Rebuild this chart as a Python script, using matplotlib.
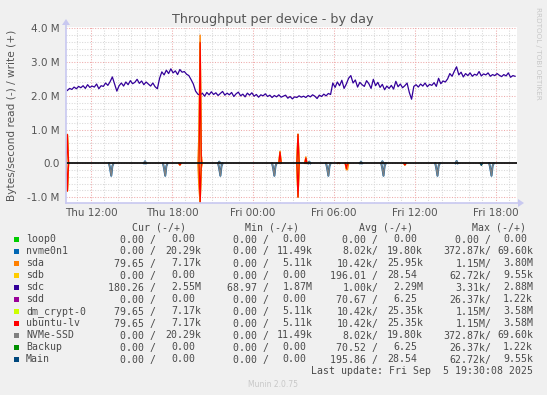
import numpy as np
import matplotlib
matplotlib.use("Agg")
import matplotlib.pyplot as plt
from matplotlib.patches import Rectangle, Polygon

W, H = 547, 395

# ---------------- data ----------------
# time axis: hours relative to Fri 00:00
x_lo, x_hi = -13.85, 19.56

# sdc write throughput (M bytes/s), one value every 10 minutes starting at -13.75 h
sdc_t0 = -13.75
sdc_step = 1 / 6
sdc_write = [
    2.16, 2.22, 2.19, 2.26, 2.21, 2.28,
    2.24, 2.30, 2.22, 2.33, 2.25, 2.29,
    2.26, 2.35, 2.21, 2.30, 2.28, 2.38,
    2.31, 2.42, 2.56, 2.35, 2.14, 2.30,
    2.38, 2.29, 2.41, 2.33, 2.45, 2.36,
    2.40, 2.49, 2.37, 2.44, 2.33, 2.41,
    2.35, 2.29, 2.38, 2.27, 2.21, 2.52,
    2.71, 2.62, 2.76, 2.66, 2.80, 2.68,
    2.74, 2.63, 2.78, 2.70, 2.72, 2.64,
    2.60, 2.48, 2.35, 2.14, 2.05, 2.02,
    2.08, 1.99, 2.10, 2.03, 2.12, 2.04,
    2.09, 2.01, 2.07, 2.13, 2.02, 2.08,
    2.03, 2.10, 1.98, 2.06, 2.11, 2.00,
    2.05, 1.97, 2.08, 2.02, 2.09, 1.99,
    2.04, 1.96, 2.03, 2.00, 2.06, 1.98,
    2.02, 1.95, 2.01, 1.97, 2.03, 1.96,
    1.99, 2.02, 1.93, 1.98, 1.91, 1.97,
    1.95, 2.00, 1.96, 1.99, 1.95, 2.01,
    1.97, 2.03, 1.99, 1.92, 2.02, 1.98,
    2.05, 2.00, 2.07, 2.04, 2.38, 2.25,
    2.41, 2.30, 2.46, 2.22, 2.35, 2.52,
    2.60, 2.38, 2.47, 2.26, 2.40, 2.33,
    2.28, 2.45, 2.36, 2.22, 2.49, 2.30,
    2.40, 2.25, 2.34, 2.18, 2.29, 2.22,
    2.31, 2.20, 2.43, 2.27, 2.35, 2.24,
    2.30, 2.38, 2.10, 1.90, 2.28, 2.33,
    2.26, 2.35, 2.29, 2.38, 2.27, 2.34,
    2.31, 2.39, 2.28, 2.52, 2.36, 2.44,
    2.41, 2.50, 2.66, 2.58, 2.73, 2.86,
    2.62, 2.70, 2.56, 2.66, 2.60, 2.68,
    2.58, 2.64, 2.61, 2.72, 2.59, 2.65,
    2.62, 2.68, 2.58, 2.63, 2.60, 2.66,
    2.61, 2.57, 2.63, 2.59, 2.68, 2.55,
    2.60, 2.58,
]

# sparse events on a 5-minute grid: (hour, M bytes/s); reads stored as magnitudes
sda_write = [(-13.75, 0.86), (-3.98, 0.90), (-3.90, 3.80), (-3.82, 0.25),
             (2.02, 0.36), (3.33, 0.86), (3.95, 0.19), (6.30, 0.02)]
sda_read = [(-13.75, 0.82), (-5.40, 0.05), (-3.98, 0.75), (-3.90, 1.15),
            (-3.82, 0.15), (3.33, 1.00), (6.92, 0.19), (7.00, 0.19), (11.26, 0.05)]
lv_write = [(-13.75, 0.85), (-3.90, 3.58), (2.02, 0.33), (3.33, 0.86),
            (3.95, 0.15), (6.30, 0.02)]
lv_read = [(-13.75, 0.82), (-5.40, 0.05), (-3.90, 1.15), (3.33, 1.00),
           (6.96, 0.15), (11.26, 0.05)]
nvme_write = [(-8.00, 0.06), (-2.50, 0.05), (4.20, 0.05), (8.00, 0.05),
              (9.55, 0.06), (15.05, 0.07)]
nvme_read = [(-10.50, 0.37), (-6.47, 0.37), (-2.44, 0.37), (1.59, 0.37),
             (5.62, 0.37), (9.65, 0.37), (13.68, 0.37), (17.71, 0.37)]
nvme_read_side = 0.16
main_read = [(16.90, 0.06)]

x_ticks = [-12, -6, 0, 6, 12, 18]
x_labels = ["Thu 12:00", "Thu 18:00", "Fri 00:00", "Fri 06:00", "Fri 12:00", "Fri 18:00"]
y_ticks = [-1, 0, 1, 2, 3, 4]
y_labels = ["-1.0 M", "0.0", "1.0 M", "2.0 M", "3.0 M", "4.0 M"]

names = ["loop0", "nvme0n1", "sda", "sdb", "sdc", "sdd", "dm_crypt-0",
         "ubuntu-lv", "NVMe-SSD", "Backup", "Main"]
colors = ["#00CC00", "#0066B3", "#FF8000", "#FFCC00", "#330099", "#990099",
          "#CCFF00", "#FF0000", "#808080", "#008F00", "#00487D"]
cur_read = ["0.00", "0.00", "79.65", "0.00", "180.26", "0.00", "79.65", "79.65", "0.00", "0.00", "0.00"]
cur_write = ["0.00", "20.29k", "7.17k", "0.00", "2.55M", "0.00", "7.17k", "7.17k", "20.29k", "0.00", "0.00"]
min_read = ["0.00", "0.00", "0.00", "0.00", "68.97", "0.00", "0.00", "0.00", "0.00", "0.00", "0.00"]
min_write = ["0.00", "11.49k", "5.11k", "0.00", "1.87M", "0.00", "5.11k", "5.11k", "11.49k", "0.00", "0.00"]
avg_read = ["0.00", "8.02k", "10.42k", "196.01", "1.00k", "70.67", "10.42k", "10.42k", "8.02k", "70.52", "195.86"]
avg_write = ["0.00", "19.80k", "25.95k", "28.54", "2.29M", "6.25", "25.35k", "25.35k", "19.80k", "6.25", "28.54"]
max_read = ["0.00", "372.87k", "1.15M", "62.72k", "3.31k", "26.37k", "1.15M", "1.15M", "372.87k", "26.37k", "62.72k"]
max_write = ["0.00", "69.60k", "3.80M", "9.55k", "2.88M", "1.22k", "3.58M", "3.58M", "69.60k", "1.22k", "9.55k"]
last_update = "Last update: Fri Sep  5 19:30:08 2025"

# ---------------- figure ----------------
fig = plt.figure(figsize=(W / 100, H / 100), dpi=100, facecolor="#F0F0F0")
ax_l, ax_r, ax_t, ax_b = 66, 517, 27, 203
ax = fig.add_axes([ax_l / W, 1 - ax_b / H, (ax_r - ax_l) / W, (ax_b - ax_t) / H])
ax.set_facecolor("white")
ax.set_xlim(x_lo, x_hi)
ax.set_ylim(-1.176, 4.04)
for s in ax.spines.values():
    s.set_visible(False)

minor_c = "#d8d8d8"
major_c = "#eeaaaa"
dot = (0, (1, 1.5))
for h in range(-13, 20):
    if h % 6:
        ax.axvline(h, color=minor_c, lw=0.75, ls=dot, zorder=0)
for k in range(-5, 21):
    v = k * 0.2
    if k % 5:
        ax.axhline(v, color=minor_c, lw=0.75, ls=dot, zorder=0)
for h in x_ticks:
    ax.axvline(h, color=major_c, lw=0.75, ls=dot, zorder=0.5)
for v in y_ticks:
    ax.axhline(v, color=major_c, lw=0.75, ls=dot, zorder=0.5)

grid = np.arange(-13.83, 19.55, 1 / 12)


def series(events):
    s = np.zeros_like(grid)
    for t, v in events:
        s[int(round((t - grid[0]) * 12))] = v
    return s


def visible(s):
    keep = s != 0
    keep = keep | np.roll(keep, 1) | np.roll(keep, -1)
    return np.where(keep, s, np.nan)


nv_read = np.zeros_like(grid)
for t, v in nvme_read:
    i = int(round((t - grid[0]) * 12))
    nv_read[i] = v
    nv_read[i - 1] = max(nv_read[i - 1], nvme_read_side)
    nv_read[i + 1] = max(nv_read[i + 1], nvme_read_side * 0.5)

sdc_t = sdc_t0 + sdc_step * np.arange(len(sdc_write))
zero = np.zeros_like(grid)

draw = [
    (zero, zero),                                   # loop0
    (series(nvme_write), nv_read),                  # nvme0n1
    (series(sda_write), series(sda_read)),          # sda
    (zero, series(main_read)),                      # sdb
    None,                                           # sdc
    (zero, zero),                                   # sdd
    (series(lv_write), series(lv_read)),            # dm_crypt-0
    (series(lv_write), series(lv_read)),            # ubuntu-lv
    (series(nvme_write), nv_read),                  # NVMe-SSD
    (zero, zero),                                   # Backup
    (zero, series(main_read)),                      # Main
]
for i, d in enumerate(draw):
    if d is None:
        ax.plot(sdc_t, sdc_write, color=colors[i], lw=0.9, zorder=2 + i * 0.1)
        continue
    w, r = d
    lw = 1.4 if names[i] == "nvme0n1" else 1.0
    ax.plot(grid, visible(w), color=colors[i], lw=lw, zorder=2 + i * 0.1)
    ax.plot(grid, visible(-r), color=colors[i], lw=lw, zorder=2 + i * 0.1)

ax.axhline(0, color="#111111", lw=1.3, zorder=5)

ax.set_xticks(x_ticks)
ax.set_xticklabels(x_labels)
ax.set_yticks(y_ticks)
ax.set_yticklabels(y_labels)
ax.tick_params(axis="both", length=0, labelsize=7.5, labelcolor="#555555")
ax.tick_params(axis="y", pad=4.5)
ax.tick_params(axis="x", pad=3.5)

# axis lines with arrows (pixel coordinates)
axis_c = "#c8c8f0"
def P(x, y):
    return (x / W, 1 - y / H)
fig.add_artist(plt.Line2D([ax_l / W, 520 / W], [1 - ax_b / H] * 2, color=axis_c, lw=1.2))
fig.add_artist(plt.Line2D([ax_l / W] * 2, [1 - ax_b / H, 1 - 22 / H], color=axis_c, lw=1.2))
fig.add_artist(Polygon([P(518, 199), P(524, 203), P(518, 207)], closed=True,
                       transform=fig.transFigure, color=axis_c, lw=0))
fig.add_artist(Polygon([P(62, 25), P(66, 19), P(70, 25)], closed=True,
                       transform=fig.transFigure, color=axis_c, lw=0))

# titles
fig.text(273 / W, 1 - 19 / H, "Throughput per device - by day", ha="center",
         va="center", fontsize=9.2, color="#555555")
fig.text(12 / W, 1 - 115 / H, "Bytes/second read (-) / write (+)", ha="center",
         va="center", rotation=90, fontsize=7.6, color="#555555")
fig.text(538 / W, 1 - 53 / H, "RRDTOOL / TOBI OETIKER", ha="center", va="center",
         rotation=270, fontsize=5.2, color="#c8c8c8")

# legend
mono = "DejaVu Sans Mono"
fs = 7.1
cw = 0.602 * fs * 100 / 72
tc = "#4a4a4a"
headers = ["Cur (-/+)", "Min (-/+)", "Avg (-/+)", "Max (-/+)"]
head_end = [186, 299.4, 412.8, 525.8]
for hdr, xe in zip(headers, head_end):
    fig.text(xe / W, 1 - 227.7 / H, hdr, ha="right", va="center",
             family=mono, fontsize=fs, color=tc)
cols = [(cur_read, cur_write, 156.3, 201.7), (min_read, min_write, 268.7, 312.3),
        (avg_read, avg_write, 378.3, 423.0), (max_read, max_write, 491.3, 533.2)]
for i, nm in enumerate(names):
    y = 239.5 + 12 * i
    fig.add_artist(Rectangle(((14) / W, 1 - (y + 2.5) / H), 5 / W, 5 / H,
                             transform=fig.transFigure, color=colors[i], lw=0))
    fig.text(26 / W, 1 - y / H, nm, ha="left", va="center", family=mono,
             fontsize=fs, color=tc)
    for rd, wr, xr, xw in cols:
        r = rd[i]
        rs = r + "/" if r[-1] in "kM" else r + " /"
        fig.text(xr / W, 1 - y / H, rs, ha="right", va="center", family=mono,
                 fontsize=fs, color=tc)
        w = wr[i]
        off = 0 if w[-1] in "kM" else cw
        fig.text((xw - off) / W, 1 - y / H, w, ha="right", va="center",
                 family=mono, fontsize=fs, color=tc)
fig.text(533.2 / W, 1 - 371.3 / H, last_update, ha="right", va="center",
         family=mono, fontsize=fs, color=tc)
fig.text(273 / W, 1 - 384.5 / H, "Munin 2.0.75", ha="center", va="center",
         fontsize=5.5, color="#c8c8c8")

fig.savefig("out.png", dpi=100, facecolor=fig.get_facecolor())
